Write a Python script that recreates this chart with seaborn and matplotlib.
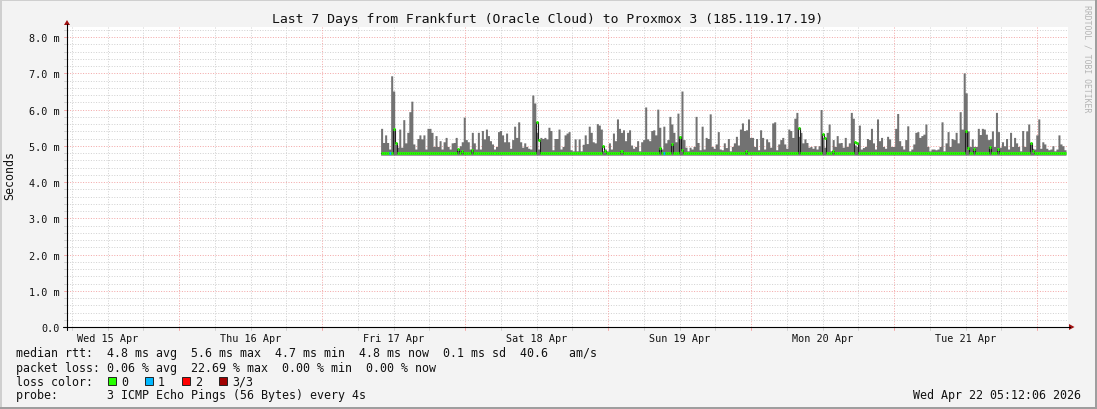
import matplotlib
matplotlib.use("Agg")
import matplotlib.pyplot as plt
from matplotlib.patches import Rectangle, Polygon
import numpy as np
import pandas as pd
import seaborn as sns

# ---- data (values in milliseconds) ----
title = "Last 7 Days from Frankfurt (Oracle Cloud) to Proxmox 3 (185.119.17.19)"
t_start = pd.Timestamp("2026-04-15 05:12:06")
t_end = pd.Timestamp("2026-04-22 05:12:06")
data_start = pd.Timestamp("2026-04-17 09:50")
sample_sec = 1218

# top of the smoke (max rtt) per sample
rtt_max = [
    5.48, 5.09, 5.30, 5.09, 4.91, 6.93, 6.51, 5.05, 4.96, 5.46, 4.96, 5.72, 5.08, 5.37, 5.94,
    6.23, 5.05, 4.91, 5.20, 5.30, 5.19, 5.30, 4.91, 5.48, 5.48, 5.37, 4.98, 5.28, 4.98, 5.14,
    4.91, 5.11, 5.23, 4.98, 4.91, 5.08, 5.09, 5.23, 4.91, 5.00, 5.11, 5.79, 5.17, 5.11, 4.91,
    5.37, 5.08, 4.91, 5.37, 4.91, 5.42, 5.19, 5.46, 5.28, 5.14, 5.05, 4.91, 4.98, 5.39, 5.42,
    5.30, 5.11, 5.35, 5.11, 4.93, 5.17, 5.54, 5.23, 5.66, 5.11, 4.96, 5.08, 4.98, 4.93, 4.91,
    6.40, 6.18, 5.37, 4.91, 5.23, 5.20, 5.23, 5.19,
    5.51, 5.42, 4.89, 5.20, 5.20, 5.46, 4.91, 4.98, 5.30, 5.35, 5.39, 4.89, 4.86, 5.19, 4.86,
    5.19, 4.86, 5.04, 5.30, 5.06, 5.54, 5.37, 5.11, 5.08, 5.61, 5.57, 5.46, 4.86, 4.91, 4.86,
    5.08, 4.91, 5.35, 5.14, 5.74, 5.48, 5.37, 5.44, 5.14, 5.37, 5.44, 5.02, 4.93, 4.98, 5.14,
    4.86, 5.11, 5.17, 6.07, 5.19, 5.14, 5.42, 5.44, 5.30, 6.01, 5.51, 4.91, 5.54, 5.08, 5.17,
    5.81, 5.60, 5.37, 5.11, 5.90, 5.28, 6.51, 5.17, 4.96, 4.86, 4.96, 4.91, 4.98, 5.81, 5.09,
    4.89, 5.54, 4.91, 5.23, 5.20, 5.88, 4.98, 4.93, 5.05, 5.39,
    4.91, 4.89, 5.08, 4.95, 5.20, 4.86, 4.98, 5.08, 5.26, 5.02, 5.46, 5.63, 5.42, 5.44, 5.74,
    5.23, 5.23, 4.98, 5.20, 4.89, 5.44, 5.23, 4.91, 5.19, 5.11, 4.96, 5.63, 5.66, 4.89, 5.05,
    5.17, 5.23, 5.05, 4.93, 5.46, 5.42, 5.23, 5.76, 5.92, 5.26, 5.37, 5.08, 5.19, 5.09, 4.96,
    4.98, 4.93, 5.00, 4.91, 5.00, 6.00, 5.23, 4.96, 5.37, 5.60, 4.86, 5.17, 4.98, 5.28, 5.08,
    5.09, 4.96, 5.23, 4.98, 5.08, 5.92, 5.76, 5.02, 4.98, 5.57, 4.91, 4.95, 4.98, 5.20, 5.17,
    5.48, 5.08, 4.91, 5.74, 5.14, 5.23, 4.98, 4.93, 5.26,
    5.19, 4.98, 4.98, 5.48, 5.89, 5.14, 5.00, 4.91, 5.17, 5.55, 4.86, 4.91, 5.05, 5.37, 5.39,
    5.23, 5.28, 5.32, 5.60, 4.98, 4.86, 4.91, 4.91, 4.89, 4.91, 4.98, 5.66, 4.86, 5.08, 5.39,
    4.98, 5.20, 5.17, 5.37, 5.08, 5.94, 5.46, 7.01, 6.46, 5.41, 4.98, 5.19, 4.98, 4.98, 5.48,
    5.31, 5.48, 5.46, 5.32, 5.17, 5.19, 5.41, 4.98, 5.92, 5.39, 4.96, 5.11, 5.00, 5.20, 4.91,
    5.37, 4.98, 5.23, 5.08, 4.98, 4.86, 5.42, 4.98, 5.41, 5.60, 5.05, 4.93, 4.91, 5.30, 5.74,
    4.93, 5.11, 5.05, 4.93, 4.89, 4.91, 5.00, 4.86, 4.91, 5.30, 5.05, 5.00, 4.89,
]
rtt_floor = 4.74
median_base = 4.79

# samples where the median left its usual level
median_spike_times = [
    "2026-04-17 11:50", "2026-04-17 12:20", "2026-04-17 22:35", "2026-04-17 23:15",
    "2026-04-18 00:55", "2026-04-18 12:00", "2026-04-18 12:20", "2026-04-18 22:55",
    "2026-04-18 23:25", "2026-04-19 02:10", "2026-04-19 08:25", "2026-04-19 10:40",
    "2026-04-19 12:00", "2026-04-19 12:20", "2026-04-19 23:00", "2026-04-20 08:00",
    "2026-04-20 12:00", "2026-04-20 12:20", "2026-04-20 13:45", "2026-04-20 17:20",
    "2026-04-20 17:40", "2026-04-21 12:00", "2026-04-21 12:20", "2026-04-21 13:10",
    "2026-04-21 16:10", "2026-04-21 17:25", "2026-04-21 22:40", "2026-04-21 23:05",
]
median_spike_vals = [
    5.46, 5.08, 4.91, 4.86, 4.89, 5.65, 5.17, 5.00, 4.86, 4.85, 4.95, 5.06, 5.23, 4.89,
    4.86, 5.50, 5.32, 5.22, 4.86, 5.11, 5.08, 5.41, 4.95, 4.91, 4.96, 4.91, 5.08, 4.86,
]
loss1_times = ["2026-04-17 11:20", "2026-04-19 09:05"]

day_labels = ["Wed 15 Apr", "Thu 16 Apr", "Fri 17 Apr", "Sat 18 Apr",
              "Sun 19 Apr", "Mon 20 Apr", "Tue 21 Apr"]
day_noons = pd.date_range("2026-04-15 12:00", periods=7, freq="D")
ytick_vals = [0, 1, 2, 3, 4, 5, 6, 7, 8]
ytick_labels = ["0.0", "1.0 m", "2.0 m", "3.0 m", "4.0 m", "5.0 m", "6.0 m", "7.0 m", "8.0 m"]

legend_rows = [
    "median rtt:  4.8 ms avg  5.6 ms max  4.7 ms min  4.8 ms now  0.1 ms sd  40.6   am/s",
    "packet loss: 0.06 % avg  22.69 % max  0.00 % min  0.00 % now",
    "loss color:",
    "probe:       3 ICMP Echo Pings (56 Bytes) every 4s",
]
loss_names = ["0", "1", "2", "3/3"]
loss_colors = ["#26ff00", "#00b8ff", "#ff0000", "#a00000"]
stamp = "Wed Apr 22 05:12:06 2026"

# ---- build series ----
step = pd.Timedelta(seconds=sample_sec)
t = pd.date_range(data_start, periods=len(rtt_max), freq=step)
med = np.full(len(t), median_base)
idx = t.get_indexer(pd.to_datetime(median_spike_times), method="nearest")
med[idx] = median_spike_vals
loss = np.zeros(len(t), dtype=int)
loss[t.get_indexer(pd.to_datetime(loss1_times), method="nearest")] = 1
df = pd.DataFrame({"time": t, "median": med, "max": rtt_max, "loss": loss})

sns.set_style("white")
plt.rcParams["font.family"] = ["DejaVu Sans Mono"]

W, H = 1097, 410
BG = "#f3f3f3"
GRID = "#d2d2d2"
MGRID = "#f3a9a9"
ARROW = "#a01010"


def fx(x):
    return x / W


def fy(y):
    return 1 - y / H


fig = plt.figure(figsize=(W / 100, H / 100), dpi=100, facecolor=BG)
ax = fig.add_axes([fx(67), fy(328), 1001 / W, 300 / H])
ax.set_facecolor("white")
for s in ax.spines.values():
    s.set_visible(False)
ax.set_xlim(t_start, t_end)
ax.set_ylim(0, 8.276)

# grid (dotted, 1px)
dots = (0, (1, 1.6))
for v in np.arange(0.2, 8.3, 0.2):
    if abs(v - round(v)) > 1e-6:
        ax.axhline(v, color=GRID, lw=0.72, ls=dots, zorder=1, snap=True)
for v in range(1, 9):
    ax.axhline(v, color=MGRID, lw=0.72, ls=dots, zorder=1, snap=True)
six_h = pd.date_range("2026-04-15 06:00", "2026-04-22 00:00", freq="6h")
minor_x = [d for d in six_h if d.hour != 0]
major_x = [d for d in six_h if d.hour == 0]
for d in minor_x:
    ax.axvline(d, color=GRID, lw=0.72, ls=dots, zorder=1, snap=True)
for d in major_x:
    ax.axvline(d, color=MGRID, lw=0.72, ls=dots, zorder=1, snap=True)

# small tick marks outside the axes
xt = ax.get_xaxis_transform()
yt = ax.get_yaxis_transform()
for d in minor_x:
    ax.plot([d, d], [-0.01, 0], transform=xt, color=GRID, lw=0.72, clip_on=False)
for d in major_x:
    ax.plot([d, d], [-0.01, 0], transform=xt, color=MGRID, lw=0.72, clip_on=False)
for v in np.arange(0.2, 8.3, 0.2):
    c = MGRID if abs(v - round(v)) < 1e-6 else GRID
    ax.plot([-0.0025, 0], [v, v], transform=yt, color=c, lw=0.72, clip_on=False)

# smoke
t_edges = t.append(pd.DatetimeIndex([t[-1] + step]))
ax.fill_between(t_edges, rtt_floor, list(rtt_max) + [rtt_max[-1]], step="post",
                color="#727272", lw=0, zorder=2)

# median: thin dark step line + coloured segments per sample
sns.lineplot(data=df, x="time", y="median", drawstyle="steps-post", color="#202020",
             lw=0.8, ax=ax, zorder=3, legend=False)
seg_colors = [loss_colors[k] for k in loss]
ax.hlines(med, t, t + step, colors=seg_colors, lw=2.1, zorder=4)

# axes lines and arrows
ax.set_xlabel("")
ax.set_ylabel("")
fig.add_artist(plt.Line2D([fx(63), fx(1070)], [fy(328), fy(328)], color="black", lw=0.8))
fig.add_artist(plt.Line2D([fx(67), fx(67)], [fy(331), fy(25)], color="black", lw=0.8))
fig.add_artist(Polygon([(fx(64), fy(26)), (fx(70), fy(26)), (fx(67), fy(21))],
                       closed=True, color=ARROW, lw=0))
fig.add_artist(Polygon([(fx(1069), fy(325)), (fx(1069), fy(331)), (fx(1074.5), fy(328))],
                       closed=True, color=ARROW, lw=0))

# tick labels
ax.set_xticks(day_noons)
ax.set_xticklabels(day_labels)
ax.set_yticks(ytick_vals)
ax.set_yticklabels(ytick_labels)
ax.tick_params(axis="x", length=0, pad=4, labelsize=7.3, colors="#111111")
ax.tick_params(axis="y", length=0, pad=5, labelsize=7.3, colors="#111111")

# texts
fig.text(fx(548), fy(19), title, ha="center", va="center", fontsize=9.45, color="#111111")
fig.text(fx(10), fy(176), "Seconds", rotation=90, ha="center", va="center",
         fontsize=8.4, color="#111111")
fig.text(fx(1087), fy(5), "RRDTOOL / TOBI OETIKER", rotation=270, ha="center", va="top",
         fontsize=5.9, color="#b4b4b4")
row_y = [354, 368.3, 382.3, 396]
for txt, yy in zip(legend_rows, row_y):
    fig.text(fx(16), fy(yy), txt, ha="left", va="center", fontsize=8.4, color="#111111")
box_x = [108, 145, 182, 219]
for bx, name, col in zip(box_x, loss_names, loss_colors):
    fig.add_artist(Rectangle((fx(bx), fy(386)), 8 / W, 8 / H, facecolor=col,
                             edgecolor="#222222", lw=0.7))
    fig.text(fx(bx + 13), fy(382.3), name, ha="left", va="center", fontsize=8.4,
             color="#111111")
fig.text(fx(1081), fy(396), stamp, ha="right", va="center", fontsize=8.4, color="#111111")

# canvas frame
fig.add_artist(Rectangle((0, fy(2)), 1, 2 / H, color="#cfcfcf", lw=0))
fig.add_artist(Rectangle((0, 0), 2 / W, 1, color="#cfcfcf", lw=0))
fig.add_artist(Rectangle((0, 0), 1, 2 / H, color="#9e9e9e", lw=0))
fig.add_artist(Rectangle((fx(1095), 0), 2 / W, 1, color="#9e9e9e", lw=0))

fig.savefig("out.png", dpi=100, facecolor=fig.get_facecolor())
